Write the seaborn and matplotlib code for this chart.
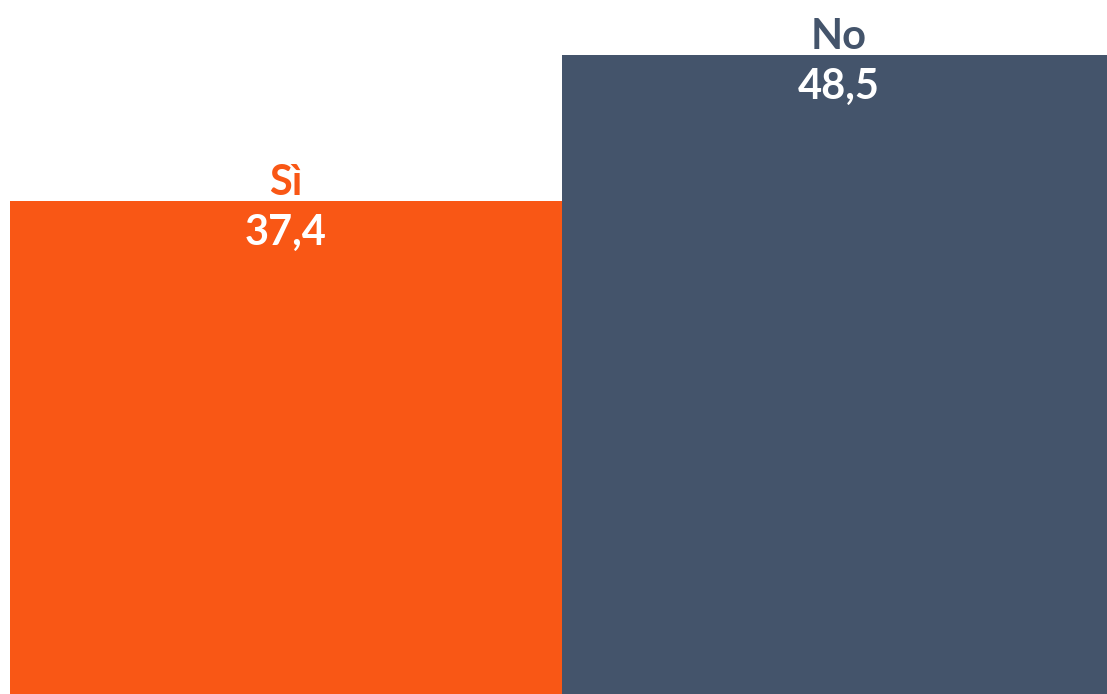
import pandas as pd
import matplotlib
matplotlib.use("Agg")
import matplotlib.pyplot as plt
import seaborn as sns

# Data
categories = ["Sì", "No"]
values = [37.4, 48.5]
value_labels = ["37,4", "48,5"]
colors = ["#F95715", "#44546B"]

sns.set_theme(style="white")
plt.rcParams["font.family"] = ["Lato", "DejaVu Sans"]

df = pd.DataFrame({"risposta": categories, "valore": values})

fig = plt.figure(figsize=(11.07, 6.94), dpi=100)
ax = fig.add_axes([0, 0, 1, 1])

sns.barplot(data=df, x="risposta", y="valore", hue="risposta",
            palette=colors, width=1.0, saturation=1, legend=False,
            linewidth=0, edgecolor="none", ax=ax)

ax.set_xlim(-0.5172, 1.4864)
ax.set_ylim(0, 52.67)
ax.axis("off")

# Category label above each bar, value inside the top of the bar
for i, p in enumerate(ax.patches):
    cx = p.get_x() + p.get_width() / 2
    top = p.get_height()
    ax.annotate(categories[i], (cx, top), xytext=(0, 4.5), textcoords="offset points",
                ha="center", va="baseline", fontsize=30, fontweight="bold",
                color=colors[i])
    ax.annotate(value_labels[i], (cx, top), xytext=(0, -31.5), textcoords="offset points",
                ha="center", va="baseline", fontsize=30, fontweight="bold",
                color="white")

fig.savefig("out.png", dpi=100)
